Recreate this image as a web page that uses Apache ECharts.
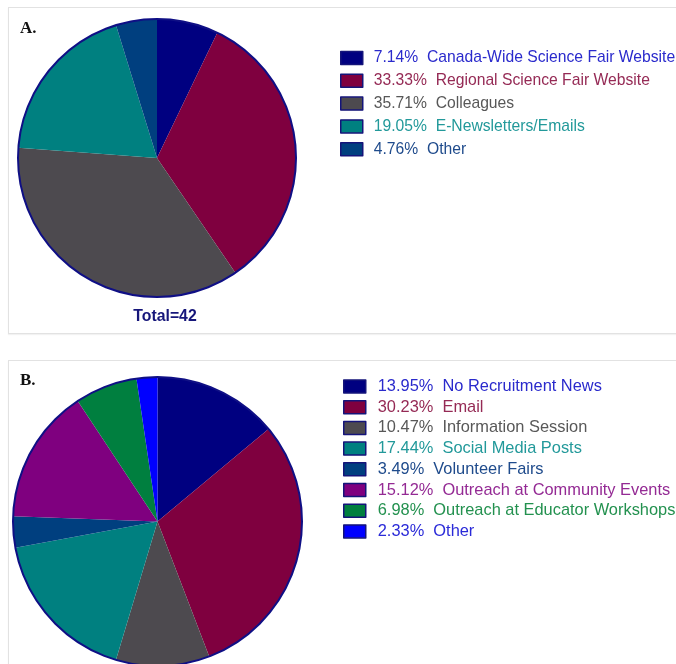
<!DOCTYPE html>
<html>
<head>
<meta charset="utf-8">
<script src="https://cdn.jsdelivr.net/npm/echarts@6/dist/echarts.min.js"></script>
<style>
  html, body { margin: 0; padding: 0; background: #ffffff; width: 676px; height: 664px; overflow: hidden; }
  .panel { position: absolute; left: 8px; width: 680px; border: 1px solid #e2e2e2; background: #fff;
           box-shadow: 0 1px 1px rgba(0,0,0,0.05); }
  #panelA { top: 7px; height: 325px; }
  #panelB { top: 360px; height: 320px; }
  .chart { width: 668px; height: 100%; }
</style>
</head>
<body>
<div class="panel" id="panelA"><div class="chart" id="chartA"></div></div>
<div class="panel" id="panelB"><div class="chart" id="chartB"></div></div>
<script>
// Panel A: how respondents heard about the fair (percent of 42)
const categoriesA = ['Canada-Wide Science Fair Website', 'Regional Science Fair Website', 'Colleagues', 'E-Newsletters/Emails', 'Other'];
const sharesA = [7.14, 33.33, 35.71, 19.05, 4.76];
const sliceColorsA = ['#000080', '#7f003f', '#4d4a4f', '#008080', '#003f7f'];
const textColorsA = ['#2a2acc', '#952a55', '#585858', '#22999a', '#1f4b8c'];
const totalLabelA = 'Total=42';

// Panel B: recruitment channels (percent)
const categoriesB = ['No Recruitment News', 'Email', 'Information Session', 'Social Media Posts', 'Volunteer Fairs',
                     'Outreach at Community Events', 'Outreach at Educator Workshops', 'Other'];
const sharesB = [13.95, 30.23, 10.47, 17.44, 3.49, 15.12, 6.98, 2.33];
const sliceColorsB = ['#000080', '#7f003f', '#4d4a4f', '#008080', '#003f7f', '#7f007f', '#007f3f', '#0000ff'];
const textColorsB = ['#2a2acc', '#952a55', '#585858', '#22999a', '#1f4b8c', '#942a94', '#23914f', '#2a2ad8'];

const FONT = "'Liberation Sans', Arial, sans-serif";

function buildOption(cfg) {
  const sum = cfg.shares.reduce((a, b) => a + b, 0);
  const lookup = {};
  cfg.categories.forEach((c, i) => { lookup[c] = cfg.shares[i]; });
  return {
    animation: false,
    graphic: cfg.graphic,
    legend: {
      orient: 'vertical',
      left: cfg.legendLeft,
      top: cfg.legendTop,
      padding: 0,
      itemWidth: 22,
      itemHeight: 13,
      itemGap: cfg.legendGap,
      icon: 'rect',
      selectedMode: false,
      itemStyle: { borderColor: '#14147a', borderWidth: 1.5 },
      textStyle: { fontFamily: FONT, fontSize: cfg.legendFont, lineHeight: 15, padding: [0, 0, 0, cfg.legendTextPad] },
      formatter: name => lookup[name].toFixed(2) + '%  ' + name,
      data: cfg.categories.map((c, i) => ({
        name: c,
        itemStyle: { color: cfg.sliceColors[i] },
        textStyle: { color: cfg.textColors[i] }
      }))
    },
    series: [
      {
        type: 'pie',
        center: cfg.center,
        radius: cfg.radius,
        startAngle: 90,
        clockwise: true,
        silent: true,
        label: { show: false },
        labelLine: { show: false },
        itemStyle: { borderWidth: 0 },
        data: cfg.categories.map((c, i) => ({
          name: c, value: cfg.shares[i], itemStyle: { color: cfg.sliceColors[i] }
        }))
      },
      {
        // outer rim of the pie
        type: 'pie',
        center: cfg.center,
        radius: cfg.radius,
        silent: true,
        label: { show: false },
        labelLine: { show: false },
        z: 3,
        data: [{ name: '__rim', value: sum,
                 itemStyle: { color: 'rgba(0,0,0,0)', borderColor: '#0f0f85', borderWidth: 2 } }]
      }
    ]
  };
}

const chartA = echarts.init(document.getElementById('chartA'));
chartA.setOption(buildOption({
  categories: categoriesA, shares: sharesA, sliceColors: sliceColorsA, textColors: textColorsA,
  center: [148, 150], radius: 139,
  legendLeft: 331, legendTop: 42, legendGap: 6.8, legendFont: 15.7, legendTextPad: 6,
  graphic: [
    { type: 'text', left: 11, top: 12,
      style: { text: 'A.', font: "bold 17px 'Liberation Serif', 'Times New Roman', serif", fill: '#111' } },
    { type: 'text', x: 156, y: 308, scaleX: 0.93,
      style: { text: totalLabelA, align: 'center', verticalAlign: 'middle',
               font: "bold 17px 'Liberation Sans', Arial, sans-serif", fill: '#16167a' } }
  ]
}));

const chartB = echarts.init(document.getElementById('chartB'));
chartB.setOption(buildOption({
  categories: categoriesB, shares: sharesB, sliceColors: sliceColorsB, textColors: textColorsB,
  center: [148.5, 160.5], radius: 144.5,
  legendLeft: 334, legendTop: 17.5, legendGap: 4.7, legendFont: 16.4, legendTextPad: 7,
  graphic: [
    { type: 'text', left: 11, top: 11,
      style: { text: 'B.', font: "bold 17px 'Liberation Serif', 'Times New Roman', serif", fill: '#111' } }
  ]
}));
</script>
</body>
</html>
